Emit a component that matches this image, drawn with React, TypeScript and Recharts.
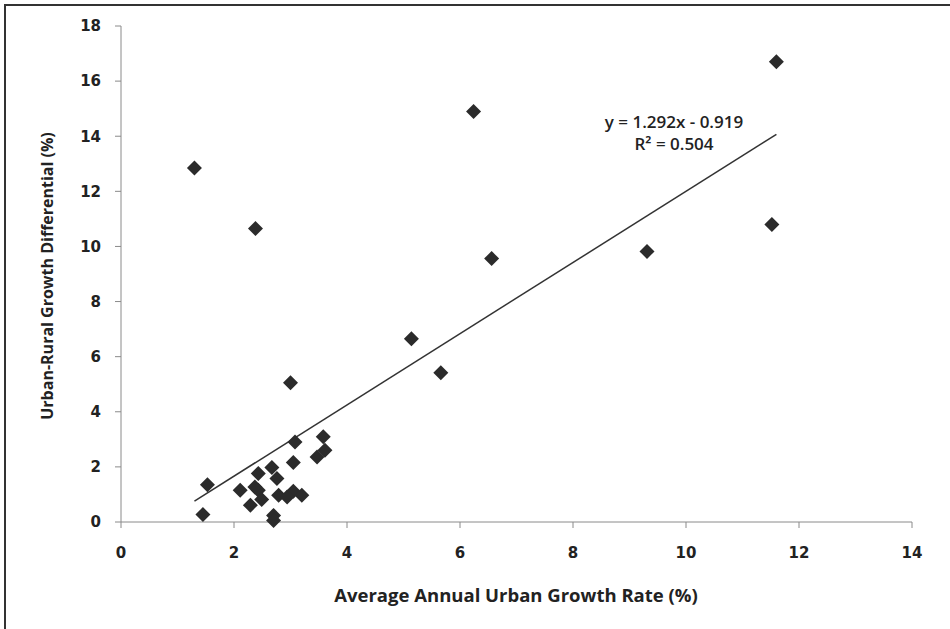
import React from 'react';
import { ScatterChart, Scatter, XAxis, YAxis, ReferenceLine } from 'recharts';

// average annual urban growth rate (%) per country
const urbanGrowth = [
  1.3, 2.38, 6.24, 11.6, 11.52, 9.31, 6.56, 5.14, 5.66, 3.0, 1.45, 1.53, 3.08, 3.05, 3.58,
  3.61, 3.47, 2.43, 2.67, 2.76, 2.11, 2.43, 2.29, 2.49, 2.79, 3.05, 3.2, 2.7, 2.7, 2.94,
  2.37,
];
// urban-rural growth differential (%)
const differential = [
  12.85, 10.65, 14.9, 16.7, 10.8, 9.82, 9.56, 6.65, 5.42, 5.05, 0.27, 1.35, 2.9, 2.16, 3.09,
  2.6, 2.36, 1.76, 1.98, 1.58, 1.15, 1.15, 0.61, 0.82, 0.97, 1.12, 0.97, 0.24, 0.05, 0.91,
  1.27,
];

const xTicks = [0, 2, 4, 6, 8, 10, 12, 14];
const yTicks = [0, 2, 4, 6, 8, 10, 12, 14, 16, 18];

// linear trendline from the fit
const fitSlope = 1.292;
const fitIntercept = -0.919;
const fitRange = [1.3, 11.6];

const points = urbanGrowth.map((x, i) => ({ x, y: differential[i] }));
const trendSegment = fitRange.map((x) => ({ x, y: fitSlope * x + fitIntercept }));

const tickStyle = {
  fontFamily: 'DejaVu Sans',
  fontWeight: 'bold' as const,
  fontSize: 15,
  fill: '#222',
};

const Diamond = (props: any) => {
  const { cx, cy } = props;
  const r = 7.5;
  return (
    <polygon
      points={`${cx},${cy - r} ${cx + r},${cy} ${cx},${cy + r} ${cx - r},${cy}`}
      fill="#2b2b2b"
    />
  );
};

const App = () => {
  return (
    <div
      style={{
        position: 'absolute',
        left: 0,
        top: 0,
        width: 950,
        height: 629,
        background: '#fff',
        overflow: 'hidden',
      }}
    >
      <div
        style={{
          position: 'absolute',
          left: 4,
          top: 4,
          right: -10,
          bottom: -10,
          borderTop: '2px solid #333',
          borderLeft: '2px solid #333',
        }}
      />
      <ScatterChart
        width={950}
        height={629}
        margin={{ top: 26, right: 38, bottom: 77, left: 61 }}
      >
        <XAxis
          type="number"
          dataKey="x"
          domain={[0, 14]}
          ticks={xTicks}
          height={30}
          stroke="#8a8a8a"
          tickSize={6}
          tickMargin={19}
          tick={tickStyle}
        />
        <YAxis
          type="number"
          dataKey="y"
          domain={[0, 18]}
          ticks={yTicks}
          width={60}
          stroke="#8a8a8a"
          tickSize={6}
          tickMargin={14}
          tick={tickStyle}
        />
        <Scatter data={points} shape={Diamond} isAnimationActive={false} />
        <ReferenceLine
          segment={trendSegment}
          stroke="#333"
          strokeWidth={1.5}
          ifOverflow="visible"
        />
      </ScatterChart>
      <div
        style={{
          position: 'absolute',
          left: 574,
          top: 111,
          width: 200,
          textAlign: 'center',
          fontFamily: 'Open Sans',
          fontWeight: 600,
          fontSize: 17,
          lineHeight: '22px',
          color: '#222',
        }}
      >
        <div>y = 1.292x - 0.919</div>
        <div>R² = 0.504</div>
      </div>
      <div
        style={{
          position: 'absolute',
          left: 216,
          top: 583,
          width: 600,
          textAlign: 'center',
          fontFamily: 'Open Sans',
          fontWeight: 'bold',
          fontSize: 18.5,
          lineHeight: '24px',
          color: '#222',
        }}
      >
        Average Annual Urban Growth Rate (%)
      </div>
      <div
        style={{
          position: 'absolute',
          left: 47,
          top: 276,
          transform: 'translate(-50%, -50%) rotate(-90deg)',
          whiteSpace: 'nowrap',
          fontFamily: 'Open Sans',
          fontWeight: 'bold',
          fontSize: 16,
          lineHeight: '20px',
          color: '#222',
        }}
      >
        Urban-Rural Growth Differential (%)
      </div>
    </div>
  );
};

export default App;
